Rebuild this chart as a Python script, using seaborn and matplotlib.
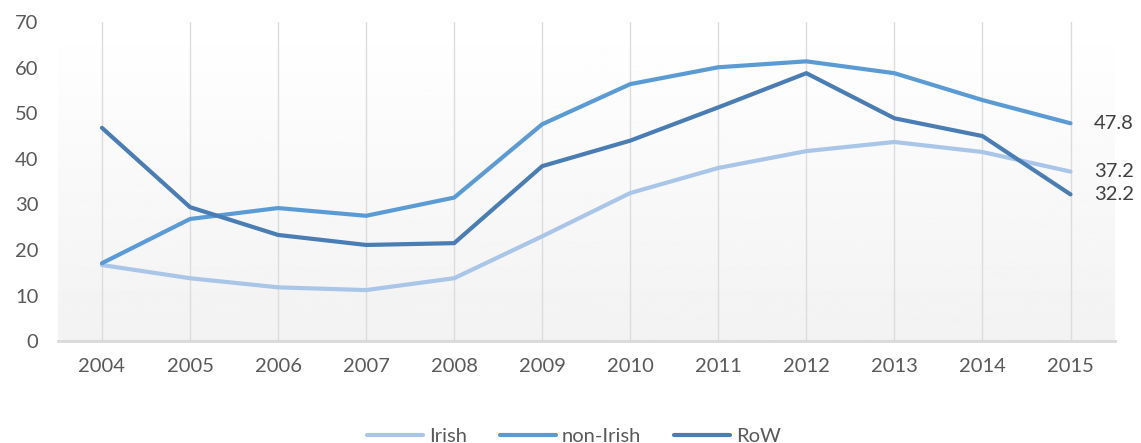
import numpy as np
import pandas as pd
import matplotlib.pyplot as plt
import seaborn as sns

# === Data ===
years = [2004, 2005, 2006, 2007, 2008, 2009, 2010, 2011, 2012, 2013, 2014, 2015]
irish = [16.7, 13.8, 11.8, 11.2, 13.8, 23.0, 32.5, 38.0, 41.7, 43.7, 41.5, 37.2]
non_irish = [17.1, 26.8, 29.2, 27.5, 31.5, 47.6, 56.4, 60.1, 61.4, 58.8, 52.9, 47.8]
row = [46.8, 29.4, 23.3, 21.1, 21.5, 38.4, 44.0, 51.3, 58.8, 48.9, 45.0, 32.2]
series_names = ["Irish", "non-Irish", "RoW"]
colors = ["#a9c5e8", "#5b9bd5", "#4a7db3"]

df = pd.DataFrame({"year": years, "Irish": irish, "non-Irish": non_irish, "RoW": row})
long_df = df.melt(id_vars="year", var_name="series", value_name="value")

sns.set_theme(style="white")
plt.rcParams["font.family"] = ["Lato", "DejaVu Sans"]
text_color = "#595959"

fig = plt.figure(figsize=(11.41, 4.43), dpi=100)
ax = fig.add_axes([0.0508, 0.230, 0.926, 0.720])

# gradient plot-area background
grad = np.linspace(1.0, 0.949, 256).reshape(-1, 1)
ax.imshow(grad, cmap="gray", vmin=0, vmax=1, aspect="auto",
          extent=(2003.5, 2015.5, 0, 70), zorder=0, origin="upper")

for yr in years:
    ax.axvline(yr, color="#dcdcdc", lw=1.0, zorder=1)

sns.lineplot(data=long_df, x="year", y="value", hue="series",
             hue_order=series_names, palette=colors, linewidth=3.0,
             ax=ax, zorder=3, legend=True)

ax.set_xlim(2003.5, 2015.5)
ax.set_ylim(0, 70)
ax.set_xticks(years)
ax.set_xticklabels([str(y) for y in years])
ax.set_yticks(range(0, 71, 10))
ax.set_xlabel("")
ax.set_ylabel("")
ax.tick_params(axis="both", length=0, labelsize=14.5, colors=text_color)
ax.tick_params(axis="x", pad=12)
ax.tick_params(axis="y", pad=14)
for s in ["top", "right", "left"]:
    ax.spines[s].set_visible(False)
ax.spines["bottom"].set_color("#d9d9d9")
ax.spines["bottom"].set_linewidth(2)
ax.spines["bottom"].set_zorder(2)

# end-point labels
for name, vals in zip(series_names, [irish, non_irish, row]):
    ax.annotate(f"{vals[-1]:.1f}", xy=(years[-1], vals[-1]), xytext=(17, 0),
                textcoords="offset points", va="center", ha="left",
                fontsize=14.5, color="#404040", annotation_clip=False)

handles, labels = ax.get_legend_handles_labels()
ax.legend_.remove()
fig.legend(handles, labels, loc="lower center", bbox_to_anchor=(0.503, -0.045),
           ncol=3, frameon=False, fontsize=14.5, handlelength=2.8,
           handletextpad=0.3, columnspacing=1.6, labelcolor=text_color)

fig.savefig("out.png", dpi=100)
